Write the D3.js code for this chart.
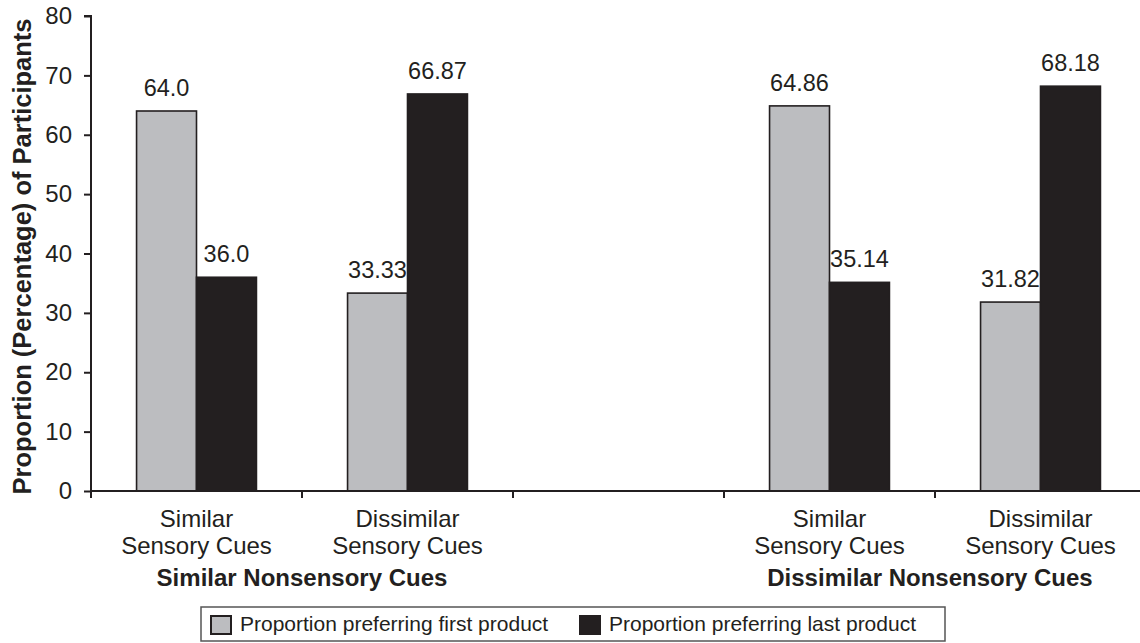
<!DOCTYPE html>
<html>
<head>
<meta charset="utf-8">
<script src="https://cdn.jsdelivr.net/npm/d3@7"></script>
<style>
  html, body { margin: 0; padding: 0; background: #fff; }
  svg { display: block; font-family: "Liberation Sans", Arial, Helvetica, sans-serif; }
</style>
</head>
<body>
<svg id="chart" width="1140" height="643"></svg>
<script>
// Category slots along the x axis (the middle slot is an empty spacer)
const slots = ["g1s", "g1d", "gap", "g2s", "g2d"];
const slotLabels = {
  g1s: ["Similar", "Sensory Cues"],
  g1d: ["Dissimilar", "Sensory Cues"],
  gap: [],
  g2s: ["Similar", "Sensory Cues"],
  g2d: ["Dissimilar", "Sensory Cues"]
};
const groupLabels = ["Similar Nonsensory Cues", "Dissimilar Nonsensory Cues"];

// Series
const seriesKeys = ["first", "last"];
const seriesNames = ["Proportion preferring first product", "Proportion preferring last product"];
const firstValues = [64.0, 33.33, null, 64.86, 31.82];
const lastValues  = [36.0, 66.87, null, 35.14, 68.18];
const firstLabels = ["64.0", "33.33", null, "64.86", "31.82"];
const lastLabels  = ["36.0", "66.87", null, "35.14", "68.18"];

const yTicks = [0, 10, 20, 30, 40, 50, 60, 70, 80];
const yTitle = "Proportion (Percentage) of Participants";

const INK = "#231f20";
const GREY = "#bcbdc0";
const colors = { first: GREY, last: INK };

const svg = d3.select("#chart");

const x = d3.scaleBand().domain(slots).range([91, 1146]).paddingInner(0).paddingOuter(0);
const inner = d3.scaleBand().domain(seriesKeys).range([0, x.bandwidth()]).paddingInner(0).paddingOuter(0.76);
const y = d3.scaleLinear().domain([0, 80]).range([491, 16]);

// Bars
const rows = [];
slots.forEach((s, i) => {
  if (firstValues[i] == null) return;
  rows.push({ slot: s, key: "first", value: firstValues[i], label: firstLabels[i] });
  rows.push({ slot: s, key: "last", value: lastValues[i], label: lastLabels[i] });
});

svg.append("g").selectAll("rect").data(rows).join("rect")
  .attr("x", d => x(d.slot) + inner(d.key))
  .attr("y", d => y(d.value))
  .attr("width", inner.bandwidth())
  .attr("height", d => y(0) - y(d.value))
  .attr("fill", d => colors[d.key])
  .attr("stroke", INK)
  .attr("stroke-width", 1.6);

// Value labels
svg.append("g").selectAll("text").data(rows).join("text")
  .attr("x", d => x(d.slot) + inner(d.key) + inner.bandwidth() / 2)
  .attr("y", d => y(d.value) - 15)
  .attr("text-anchor", "middle")
  .attr("font-size", 23.5)
  .attr("fill", INK)
  .text(d => d.label);

// Y axis
const yAxis = svg.append("g")
  .attr("transform", `translate(${x.range()[0]},0)`)
  .call(d3.axisLeft(y).tickValues(yTicks).tickSize(7).tickPadding(12).tickFormat(d3.format("d")));
yAxis.select(".domain").attr("stroke", INK).attr("stroke-width", 2).attr("d", `M-7,${y(80)}H0V${y(0)}`);
yAxis.selectAll(".tick line").attr("stroke", INK).attr("stroke-width", 2);
yAxis.selectAll(".tick text").attr("font-size", 24).attr("fill", INK).attr("font-family", null);

// X axis: ticks sit at the slot boundaries
const bounds = slots.map(s => x(s)).concat([x.range()[1]]);
const xAxis = svg.append("g").attr("transform", `translate(0,${y(0)})`);
xAxis.append("line")
  .attr("x1", x.range()[0]).attr("x2", x.range()[1])
  .attr("stroke", INK).attr("stroke-width", 2);
xAxis.selectAll("line.tk").data(bounds).join("line").attr("class", "tk")
  .attr("x1", d => d).attr("x2", d => d).attr("y1", 0).attr("y2", 7)
  .attr("stroke", INK).attr("stroke-width", 2);

// Slot labels (two lines each)
const lab = svg.append("g").attr("font-size", 24).attr("fill", INK).attr("text-anchor", "middle");
slots.forEach(s => {
  slotLabels[s].forEach((line, j) => {
    lab.append("text")
      .attr("x", x(s) + x.bandwidth() / 2)
      .attr("y", 527 + j * 27)
      .text(line);
  });
});

// Group labels, centred under each pair of slots
const groupCenters = [x("g1d"), x("g2d") - 5];
svg.append("g").selectAll("text").data(groupLabels).join("text")
  .attr("x", (d, i) => groupCenters[i])
  .attr("y", 586)
  .attr("text-anchor", "middle")
  .attr("font-size", 24)
  .attr("font-weight", "bold")
  .attr("fill", INK)
  .text(d => d);

// Y axis title
svg.append("text")
  .attr("transform", `translate(31,${(y(0) + y(80)) / 2 + 3}) rotate(-90)`)
  .attr("text-anchor", "middle")
  .attr("font-size", 25.5)
  .attr("font-weight", "bold")
  .attr("fill", INK)
  .text(yTitle);

// Legend
const legend = svg.append("g");
legend.append("rect")
  .attr("x", 201).attr("y", 607).attr("width", 744).attr("height", 34)
  .attr("fill", "#fff").attr("stroke", "#555").attr("stroke-width", 1.5);
const legendX = [211, 580];
seriesKeys.forEach((k, i) => {
  legend.append("rect")
    .attr("x", legendX[i]).attr("y", 616).attr("width", 20).attr("height", 18)
    .attr("fill", colors[k]).attr("stroke", INK).attr("stroke-width", 2);
  legend.append("text")
    .attr("x", legendX[i] + 29).attr("y", 631)
    .attr("font-size", 21).attr("fill", INK)
    .text(seriesNames[i]);
});
</script>
</body>
</html>
